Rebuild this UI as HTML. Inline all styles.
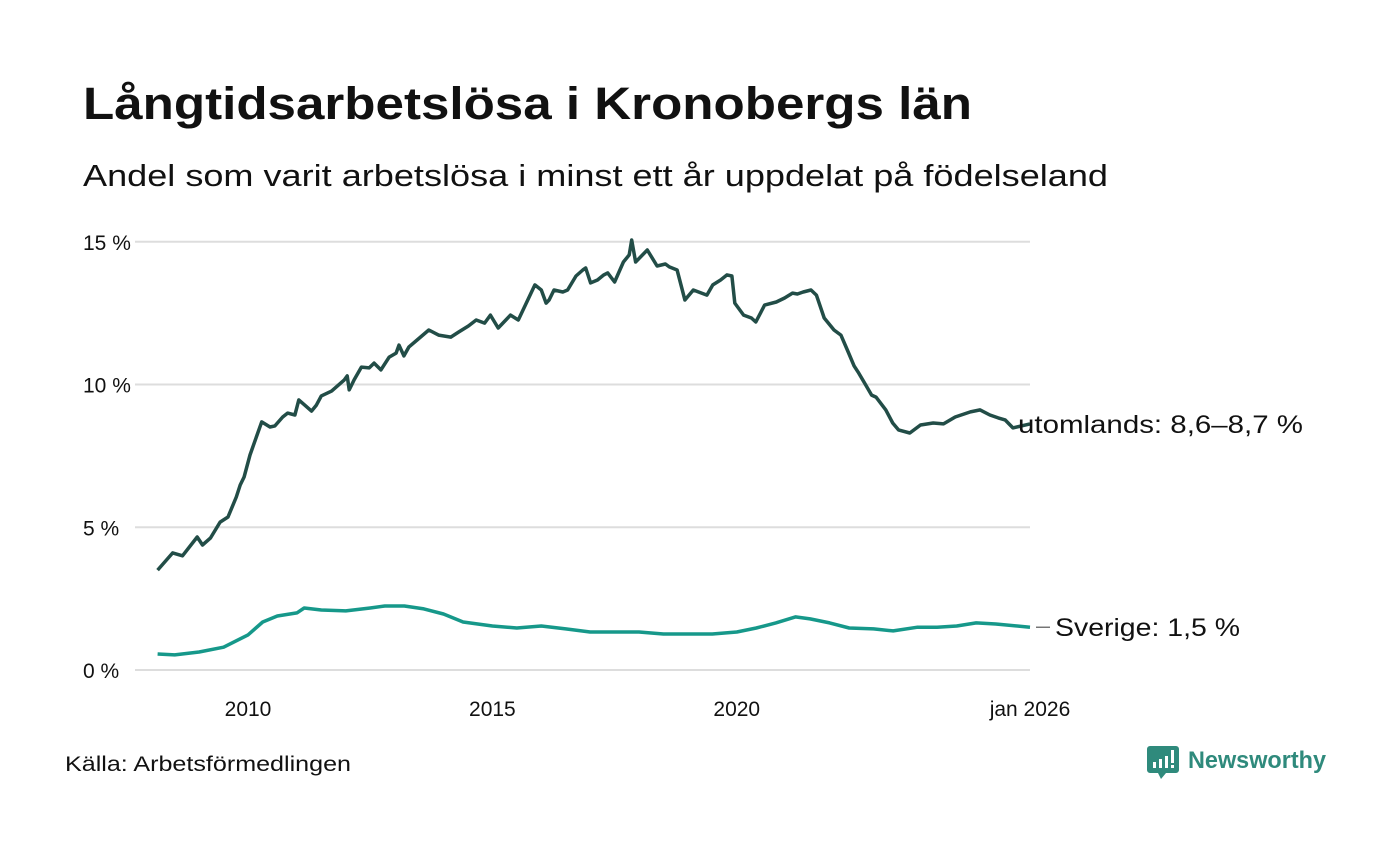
<!DOCTYPE html>
<html><head><meta charset="utf-8"><style>
body{margin:0;background:#fff;width:1400px;height:840px;overflow:hidden;font-family:"Liberation Sans",sans-serif}
</style></head><body>
<svg width="1400" height="840" font-family="Liberation Sans, sans-serif">
<text x="83" y="119" font-size="45" font-weight="bold" fill="#111" textLength="889" lengthAdjust="spacingAndGlyphs">Långtidsarbetslösa i Kronobergs län</text>
<text x="83" y="186" font-size="31" fill="#111" textLength="1025" lengthAdjust="spacingAndGlyphs">Andel som varit arbetslösa i minst ett år uppdelat på födelseland</text>
<g id="grid"></g><g id="xaxis"></g><g id="lines"></g>
<text x="65" y="771" font-size="21" fill="#111" textLength="286" lengthAdjust="spacingAndGlyphs">Källa: Arbetsförmedlingen</text>
<g>
<path d="M1150 746h26a3 3 0 0 1 3 3v21a3 3 0 0 1-3 3h-10l-5 6-3-6h-8a3 3 0 0 1-3-3v-21a3 3 0 0 1 3-3z" fill="#2f8a7c"/>
<rect x="1153" y="762" width="3" height="6" fill="#fff"/><rect x="1159" y="759" width="3" height="9" fill="#fff"/><rect x="1165" y="756" width="3" height="12" fill="#fff"/><rect x="1171" y="750" width="3" height="13" fill="#fff"/><rect x="1171" y="765" width="3" height="3" fill="#fff"/>
<text x="1188" y="768" font-size="24" font-weight="bold" fill="#2f8a7c" textLength="138" lengthAdjust="spacingAndGlyphs">Newsworthy</text></g>
</svg>
<script>
const yTicks=[0,5,10,15];
const yTickLabels=["0 %","5 %","10 %","15 %"];
const xTicks=[2010,2015,2020,2026];
const xTickLabels=["2010","2015","2020","jan 2026"];
const utDates=[2008.15,2008.46,2008.66,2008.96,2009.07,2009.23,2009.43,2009.59,2009.76,2009.84,2009.92,2010.04,2010.28,2010.45,2010.55,2010.71,2010.81,2010.96,2011.04,2011.16,2011.30,2011.40,2011.50,2011.71,2011.97,2012.03,2012.07,2012.17,2012.32,2012.48,2012.58,2012.72,2012.89,2013.03,2013.09,2013.19,2013.29,2013.46,2013.70,2013.90,2014.15,2014.31,2014.51,2014.67,2014.84,2014.96,2015.12,2015.37,2015.53,2015.87,2016.00,2016.10,2016.16,2016.26,2016.44,2016.54,2016.71,2016.85,2016.91,2017.01,2017.15,2017.28,2017.36,2017.50,2017.68,2017.80,2017.85,2017.93,2018.17,2018.37,2018.54,2018.62,2018.78,2018.94,2019.11,2019.39,2019.51,2019.67,2019.80,2019.90,2019.96,2020.14,2020.30,2020.39,2020.57,2020.81,2020.98,2021.14,2021.24,2021.36,2021.52,2021.63,2021.79,2021.99,2022.13,2022.28,2022.40,2022.48,2022.64,2022.76,2022.85,2023.05,2023.19,2023.31,2023.54,2023.76,2024.02,2024.23,2024.47,2024.78,2024.98,2025.18,2025.35,2025.49,2025.65,2026.0];
const utValues=[3.50,4.10,4.00,4.66,4.38,4.62,5.18,5.36,6.06,6.48,6.76,7.53,8.69,8.51,8.55,8.86,9.00,8.93,9.46,9.28,9.07,9.28,9.60,9.77,10.16,10.30,9.81,10.16,10.61,10.58,10.75,10.51,10.96,11.10,11.38,11.00,11.31,11.56,11.91,11.73,11.66,11.84,12.05,12.26,12.15,12.43,11.98,12.43,12.26,13.49,13.31,12.85,12.96,13.31,13.24,13.31,13.80,14.01,14.08,13.56,13.66,13.84,13.91,13.59,14.29,14.54,15.06,14.29,14.71,14.15,14.22,14.12,14.01,12.96,13.31,13.13,13.49,13.66,13.84,13.80,12.85,12.43,12.33,12.19,12.78,12.89,13.03,13.20,13.17,13.24,13.31,13.13,12.33,11.91,11.73,11.14,10.65,10.44,9.98,9.63,9.56,9.11,8.65,8.41,8.30,8.58,8.65,8.62,8.86,9.04,9.11,8.93,8.83,8.76,8.48,8.62];
const seDates=[2008.15,2008.5,2009.0,2009.5,2010.0,2010.3,2010.6,2011.0,2011.15,2011.5,2012.0,2012.5,2012.8,2013.2,2013.6,2014.0,2014.4,2015.0,2015.5,2016.0,2016.5,2017.0,2017.5,2018.0,2018.5,2019.0,2019.5,2020.0,2020.4,2020.8,2021.2,2021.5,2021.9,2022.3,2022.8,2023.2,2023.7,2024.1,2024.5,2024.9,2025.3,2026.0];
const seValues=[0.56,0.53,0.63,0.80,1.23,1.68,1.89,2.00,2.17,2.10,2.07,2.17,2.24,2.24,2.14,1.96,1.68,1.54,1.47,1.54,1.44,1.33,1.33,1.33,1.26,1.26,1.26,1.33,1.47,1.65,1.86,1.79,1.65,1.47,1.44,1.37,1.50,1.50,1.54,1.65,1.61,1.50];
const NS="http://www.w3.org/2000/svg";
const X=t=>248+(t-2010)*(1030-248)/16;
const Y=v=>670-v*28.55;
function mk(tag,attrs,parent){const e=document.createElementNS(NS,tag);for(const k in attrs)e.setAttribute(k,attrs[k]);parent.appendChild(e);return e;}
const grid=document.getElementById('grid');
yTicks.forEach((v,i)=>{
 const l=mk('line',{x1:135,x2:1030,y1:Y(v),y2:Y(v),stroke:'#ddd','stroke-width':2},grid);
 
 
 const t=mk('text',{x:83,y:Y(v)+8,'font-size':21,fill:'#111'},grid);t.textContent=yTickLabels[i];
 
 
});
const xa=document.getElementById('xaxis');
xTicks.forEach((v,i)=>{
 const t=mk('text',{x:X(v),y:716,'font-size':21,fill:'#111','text-anchor':'middle'},xa);t.textContent=xTickLabels[i];
 
 
});
const lines=document.getElementById('lines');
function path(d,v){return d.map((t,i)=>(i?'L':'M')+X(t).toFixed(1)+' '+Y(v[i]).toFixed(1)).join('');}
const p1=mk('path',{d:path(utDates,utValues),fill:'none',stroke:'#224d47','stroke-width':3.5,'stroke-linejoin':'round'},lines);


const p2=mk('path',{d:path(seDates,seValues),fill:'none',stroke:'#16988a','stroke-width':3.5,'stroke-linejoin':'round'},lines);


const l1=mk('text',{x:1018,y:Y(utValues[utValues.length-1])+9,'font-size':25,fill:'#111',textLength:285,lengthAdjust:'spacingAndGlyphs'},lines);l1.textContent='utomlands: 8,6–8,7 %';


const sy=Y(seValues[seValues.length-1]);
const ld=mk('line',{x1:1036,x2:1050,y1:sy,y2:sy,stroke:'#333','stroke-width':1},lines);


const l2=mk('text',{x:1055,y:sy+9,'font-size':25,fill:'#111',textLength:185,lengthAdjust:'spacingAndGlyphs'},lines);l2.textContent='Sverige: 1,5 %';


</script>
</body></html>
